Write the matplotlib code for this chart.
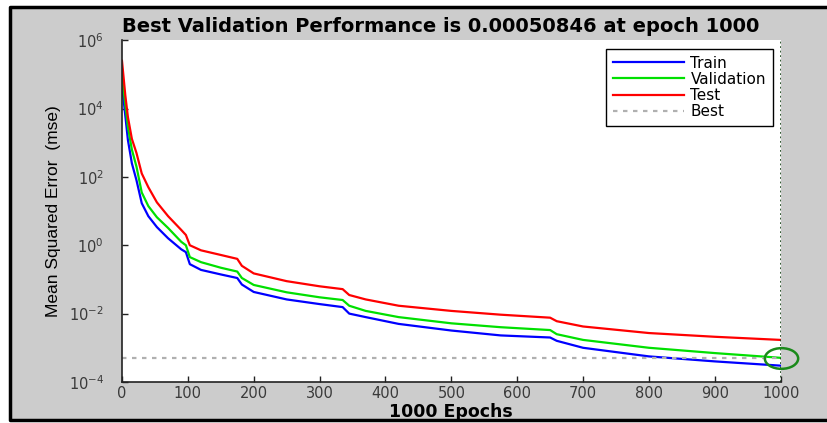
import numpy as np
import matplotlib
matplotlib.use("Agg")
import matplotlib.pyplot as plt
from matplotlib.patches import Rectangle
from matplotlib.lines import Line2D
from matplotlib.path import Path
from matplotlib.transforms import Affine2D

plt.rcParams["font.family"] = ["DejaVu Sans"]

# Values (mean squared error per epoch)
epochs = [0, 5, 9, 15, 22, 30, 40, 53, 70, 90, 97, 103, 120, 150, 175, 182,
          200, 250, 300, 335, 345, 370, 420, 500, 575, 650, 660, 700, 800, 900, 1000]
train_mse = [5e4, 6.3e3, 1.2e3, 250, 80, 17, 7.1, 3.4, 1.6, 0.76, 0.63, 0.28, 0.19,
             0.14, 0.11, 0.071, 0.043, 0.026, 0.019, 0.0155, 0.010, 0.0079, 0.0050,
             0.0032, 0.0023, 0.0020, 0.0016, 0.0010, 0.00056, 0.00040, 0.00030]
val_mse = [1e5, 1.3e4, 2.9e3, 630, 200, 35, 14, 6.6, 3.2, 1.26, 1.0, 0.45, 0.32,
           0.22, 0.17, 0.11, 0.069, 0.042, 0.030, 0.025, 0.017, 0.012, 0.0079,
           0.0052, 0.0040, 0.0033, 0.0025, 0.0017, 0.0010, 0.00070, 0.00050846]
test_mse = [2.5e5, 2.5e4, 5.6e3, 1.3e3, 500, 126, 50, 18, 7.1, 2.8, 2.0, 1.0, 0.71,
            0.52, 0.40, 0.25, 0.15, 0.089, 0.063, 0.052, 0.035, 0.026, 0.017,
            0.012, 0.0093, 0.0076, 0.0060, 0.0042, 0.0027, 0.0021, 0.0017]
best_epoch = 1000
best_perf = 0.00050846
xticks = list(range(0, 1001, 100))
yticks = [1e-4, 1e-2, 1e0, 1e2, 1e4, 1e6]

fig = plt.figure(figsize=(8.27, 4.23), dpi=100, facecolor="white")
# gray figure panel, black frame on left, top and bottom only
fig.patches.append(Rectangle((0.012, 0.007), 1.1, 0.976, transform=fig.transFigure,
                             facecolor="#cccccc", edgecolor="none", zorder=-10))
frame_x = [1.0, 0.012, 0.012, 1.0]
frame_y = [0.983, 0.983, 0.007, 0.007]
fig.add_artist(Line2D(frame_x, frame_y, transform=fig.transFigure,
                      color="black", lw=2.5, zorder=-9))

ax = fig.add_axes([0.1475, 0.097, 0.7965, 0.808])
ax.set_facecolor("white")

ax.plot(epochs, train_mse, color="#0000ff", lw=1.6, label="Train")
ax.plot(epochs, val_mse, color="#00e000", lw=1.6, label="Validation")
ax.plot(epochs, test_mse, color="#ff0000", lw=1.6, label="Test")
ax.axhline(best_perf, color="#b0b0b0", lw=1.6, ls=(0, (2, 2.5)), label="Best")
ax.axvline(best_epoch, color="#204a20", lw=1.3, ls=(0, (1, 1.5)))

ellipse = Path.unit_circle().transformed(Affine2D().scale(1.0, 0.62))
ax.plot([best_epoch], [best_perf], marker=ellipse, ms=24, mfc="none",
        mec="#1a8a1a", mew=1.8, clip_on=False, zorder=5)

ax.set_yscale("log")
ax.set_xlim(0, 1000)
ax.set_ylim(1e-4, 1e6)
ax.set_xticks(xticks)
ax.set_yticks(yticks)
ax.minorticks_off()
ax.tick_params(direction="in", length=4, width=1, colors="#222222",
               labelsize=10.5, labelcolor="#3a3a3a")
ax.tick_params(axis="x", pad=3)
ax.tick_params(axis="y", pad=13)

for s in ["top", "right"]:
    ax.spines[s].set_visible(False)
for s in ["left", "bottom"]:
    ax.spines[s].set_color("#222222")
    ax.spines[s].set_linewidth(1.2)

ax.set_title("Best Validation Performance is 0.00050846 at epoch 1000",
             fontsize=14, fontweight="bold", pad=6, x=0.484)
ax.set_xlabel("1000 Epochs", fontsize=12.5, fontweight="bold", labelpad=1)
ax.set_ylabel("Mean Squared Error  (mse)", fontsize=12.5,
              family=["Liberation Sans", "DejaVu Sans"])
ax.yaxis.set_label_coords(-0.0926, 0.5)

leg = ax.legend(loc="upper right", bbox_to_anchor=(0.988, 0.975), fontsize=11,
                fancybox=False, framealpha=1, edgecolor="black",
                borderaxespad=0.0, handlelength=4.6, handletextpad=0.45,
                labelspacing=0.08, borderpad=0.45)
leg.get_frame().set_linewidth(1.0)

fig.savefig("out.png", dpi=100, facecolor=fig.get_facecolor())
